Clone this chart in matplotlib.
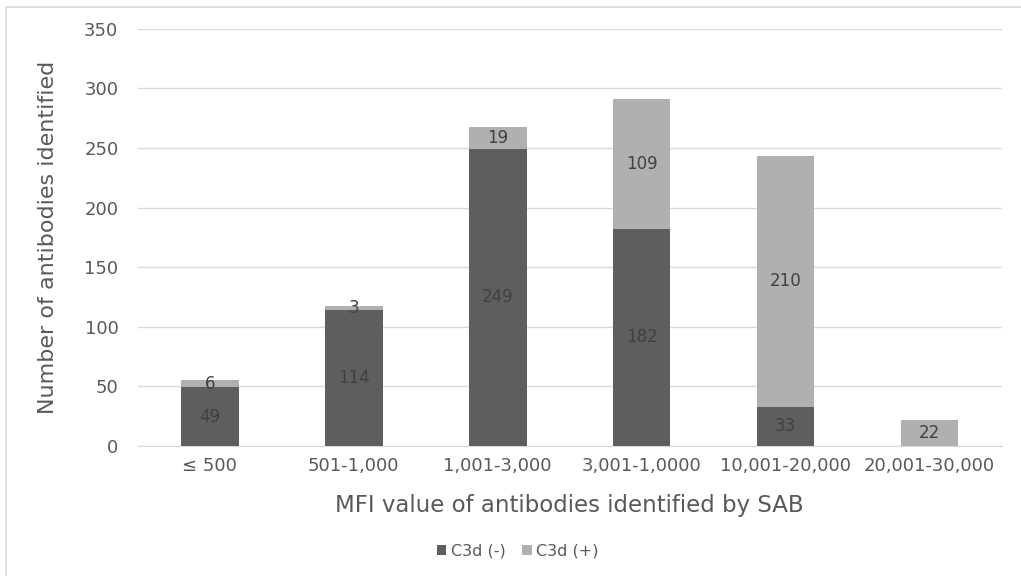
import numpy as np
import matplotlib
matplotlib.use("Agg")
import matplotlib.pyplot as plt
from matplotlib.patches import Rectangle

categories = ["≤ 500", "501-1,000", "1,001-3,000", "3,001-1,0000", "10,001-20,000", "20,001-30,000"]
c3d_neg = [49, 114, 249, 182, 33, 0]
c3d_pos = [6, 3, 19, 109, 210, 22]

plt.rcParams['font.family'] = ['DejaVu Sans']

dark = '#5e5e5e'
light = '#b0b0b0'
txt = '#404040'
grey = '#595959'

fig = plt.figure(figsize=(10.21, 5.76), dpi=100)
ax = fig.add_axes([0.135, 0.226, 0.846, 0.724])

x = np.arange(len(categories))
w = 0.40
neg = np.array(c3d_neg)
pos = np.array(c3d_pos)
ax.bar(x, neg, w, color=dark, label='C3d (-)', zorder=3)
ax.bar(x, pos, w, bottom=neg, color=light, label='C3d (+)', zorder=3)

# segment labels, skip empty ones
for i in range(len(x)):
    if neg[i] > 0:
        ax.text(x[i], neg[i] / 2, str(neg[i]), ha='center', va='center', fontsize=12, color=txt, zorder=4)
    if pos[i] > 0:
        ax.text(x[i], neg[i] + pos[i] / 2, str(pos[i]), ha='center', va='center', fontsize=12, color=txt, zorder=4)

ax.set_xlim(-0.5, len(categories) - 0.5)
ax.set_ylim(0, 350)
ax.set_yticks(np.arange(0, 351, 50))
ax.set_xticks(x)
ax.set_xticklabels(categories)
ax.tick_params(axis='both', length=0, labelsize=13, labelcolor=grey)
ax.tick_params(axis='x', pad=8)
ax.tick_params(axis='y', pad=14)
ax.grid(axis='y', color='#d9d9d9', linewidth=1, zorder=0)
for s in ['top', 'right', 'left']:
    ax.spines[s].set_visible(False)
ax.spines['bottom'].set_color('#d9d9d9')

ax.set_xlabel('MFI value of antibodies identified by SAB', fontsize=16.5, color=grey, labelpad=14)
ax.set_ylabel('Number of antibodies identified', fontsize=16, color=grey, labelpad=19)

ax.legend(loc='center', bbox_to_anchor=(0.44, -0.252), ncol=2, frameon=False, fontsize=11.5,
          handlelength=0.6, handleheight=0.6, handletextpad=0.3, columnspacing=1.0,
          labelcolor=grey)

# light border around the chart area
fig.patches.append(Rectangle((6 / 1021, -0.1), 1.2, 1 - 7 / 576 + 0.1, transform=fig.transFigure,
                             fill=False, edgecolor='#d9d9d9', linewidth=1.2))

fig.savefig('out.png', dpi=100, facecolor='white')
